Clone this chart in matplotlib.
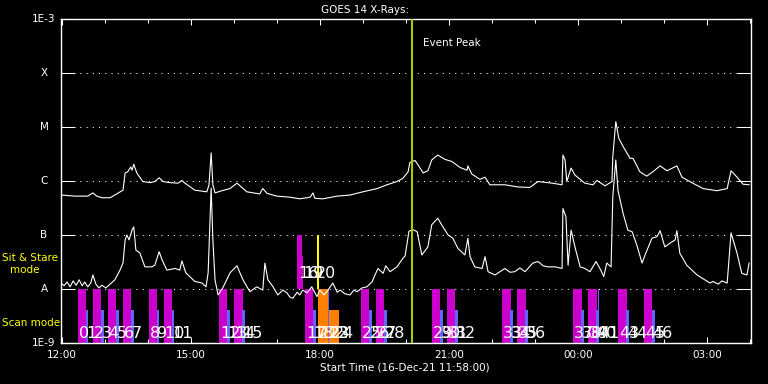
"""
GOES 14 rayos X, 16-Dec-21
"""
import numpy as np
import matplotlib
matplotlib.use('Agg')
import matplotlib.pyplot as plt

# horas desde 12:00 UT del 16-Dec-21, log10 del flujo (W/m^2)
t_long = [-0.02, 0.30, 0.60, 0.72, 0.81, 0.93, 1.12, 1.23, 1.42, 1.47,
          1.53, 1.60, 1.63, 1.67, 1.74, 1.88, 2.05, 2.16, 2.26, 2.35,
          2.51, 2.70, 2.79, 2.86, 3.09, 3.37, 3.42, 3.47, 3.51, 3.56,
          3.72, 3.91, 4.07, 4.30, 4.60, 4.67, 4.77, 5.00, 5.30, 5.53,
          5.77, 5.84, 5.88, 6.07, 6.40, 6.70, 7.00, 7.33, 7.56, 7.79,
          7.93, 8.05, 8.09, 8.21, 8.28, 8.40, 8.51, 8.60, 8.74, 8.91,
          9.07, 9.26, 9.42, 9.44, 9.53, 9.72, 9.84, 9.95, 10.30, 10.60,
          10.88, 11.07, 11.40, 11.63, 11.65, 11.70, 11.74, 11.84, 11.93, 12.16,
          12.35, 12.44, 12.63, 12.79, 12.81, 12.88, 12.95, 13.05, 13.21, 13.28,
          13.44, 13.60, 13.74, 13.91, 14.07, 14.30, 14.42, 14.67, 14.91, 15.23,
          15.47, 15.56, 15.70, 15.84, 15.98]
logf_long = [-6.26, -6.28, -6.28, -6.22, -6.28, -6.31, -6.31, -6.26, -6.17, -5.85,
             -5.83, -5.74, -5.80, -5.69, -5.85, -6.01, -6.03, -6.01, -5.94, -6.01,
             -6.03, -6.04, -5.99, -6.04, -6.17, -6.20, -6.07, -5.48, -6.07, -6.22,
             -6.18, -6.14, -6.04, -6.20, -6.24, -6.14, -6.23, -6.28, -6.30, -6.33,
             -6.30, -6.22, -6.32, -6.33, -6.28, -6.26, -6.20, -6.14, -6.07, -6.01,
             -5.95, -5.83, -5.66, -5.62, -5.70, -5.85, -5.81, -5.61, -5.52, -5.60,
             -5.64, -5.75, -5.80, -5.72, -5.87, -5.97, -5.93, -6.07, -6.07, -6.11,
             -6.12, -6.01, -6.04, -6.07, -5.52, -5.61, -6.01, -5.76, -5.89, -6.04,
             -6.07, -5.99, -6.09, -6.01, -5.55, -4.90, -5.21, -5.36, -5.58, -5.58,
             -5.83, -5.91, -5.83, -5.72, -5.81, -5.72, -5.93, -6.04, -6.14, -6.18,
             -6.14, -5.81, -5.93, -6.06, -6.07]

t_short = [-0.02, 0.05, 0.12, 0.19, 0.26, 0.33, 0.40, 0.47, 0.53, 0.60,
           0.67, 0.72, 0.79, 0.86, 0.93, 1.02, 1.12, 1.23, 1.35, 1.42,
           1.47, 1.51, 1.56, 1.63, 1.67, 1.72, 1.81, 1.93, 2.09, 2.16,
           2.26, 2.33, 2.44, 2.63, 2.74, 2.79, 2.88, 3.09, 3.26, 3.35,
           3.40, 3.47, 3.51, 3.56, 3.63, 3.74, 3.91, 4.07, 4.21, 4.37,
           4.53, 4.67, 4.72, 4.79, 4.91, 5.02, 5.14, 5.23, 5.30, 5.37,
           5.47, 5.53, 5.60, 5.70, 5.81, 5.93, 6.00, 6.09, 6.16, 6.30,
           6.40, 6.47, 6.58, 6.70, 6.79, 6.86, 6.98, 7.09, 7.21, 7.28,
           7.35, 7.47, 7.53, 7.63, 7.79, 7.93, 7.98, 8.07, 8.16, 8.26,
           8.37, 8.51, 8.60, 8.74, 8.86, 8.98, 9.09, 9.21, 9.37, 9.44,
           9.49, 9.60, 9.77, 9.84, 9.91, 10.07, 10.30, 10.42, 10.53, 10.65,
           10.77, 10.95, 11.07, 11.19, 11.30, 11.47, 11.63, 11.65, 11.72, 11.77,
           11.84, 11.93, 12.05, 12.16, 12.28, 12.42, 12.53, 12.60, 12.67, 12.77,
           12.81, 12.88, 12.93, 13.05, 13.16, 13.26, 13.37, 13.49, 13.56, 13.72,
           13.84, 13.91, 14.02, 14.14, 14.26, 14.30, 14.37, 14.53, 14.77, 14.95,
           15.07, 15.14, 15.26, 15.35, 15.47, 15.56, 15.70, 15.81, 15.93, 15.98]
logf_short = [-7.89, -7.94, -7.87, -7.96, -7.85, -7.93, -7.83, -7.94, -7.87, -7.96,
              -7.89, -7.74, -7.91, -7.98, -7.93, -7.98, -7.91, -7.83, -7.65, -7.52,
              -7.09, -7.00, -7.09, -6.91, -6.85, -7.28, -7.33, -7.59, -7.59, -7.56,
              -7.31, -7.46, -7.65, -7.62, -7.65, -7.48, -7.70, -7.86, -7.89, -7.96,
              -7.70, -6.13, -7.09, -7.83, -8.11, -7.98, -7.70, -7.57, -7.83, -8.05,
              -7.96, -8.02, -7.52, -7.83, -7.96, -8.11, -8.02, -8.07, -8.15, -8.17,
              -8.06, -8.11, -8.02, -8.07, -7.96, -8.14, -8.02, -8.11, -8.05, -7.89,
              -8.06, -8.02, -8.09, -8.11, -8.02, -8.05, -7.98, -7.96, -7.87, -7.74,
              -7.62, -7.71, -7.57, -7.68, -7.59, -7.43, -7.39, -6.93, -6.90, -6.94,
              -7.37, -7.22, -6.81, -6.69, -6.85, -7.00, -7.06, -7.25, -7.37, -7.06,
              -7.40, -7.59, -7.62, -7.40, -7.68, -7.74, -7.62, -7.69, -7.68, -7.61,
              -7.68, -7.52, -7.49, -7.57, -7.59, -7.59, -7.62, -6.51, -6.66, -7.56,
              -6.91, -7.22, -7.59, -7.62, -7.68, -7.49, -7.65, -7.77, -7.52, -7.59,
              -6.29, -5.61, -6.17, -6.60, -6.91, -6.94, -7.19, -7.52, -7.37, -7.06,
              -7.03, -6.92, -7.22, -7.15, -7.09, -6.92, -7.34, -7.56, -7.74, -7.83,
              -7.89, -7.86, -7.91, -7.85, -7.89, -6.96, -7.34, -7.71, -7.74, -7.52]

# observaciones en modo scan (magenta + azul), inicio HH:MM y etiquetas
scan_start = ['12:22', '12:43', '13:04', '13:25', '14:01', '14:22', '15:39', '16:00',
              '17:39', '18:57', '19:18', '20:36', '20:57', '22:14', '22:35', '23:53',
              '00:14', '00:56', '01:32']
scan_labels = [(0, 1), (2, 3), (4, 5), (6, 7), (8, 9), (10, 11), (12, 13), (14, 15),
               (17, 18), (25, 26), (27, 28), (29, 30), (31, 32), (33, 34), (35, 36), (37, 38),
               (39, 40), (43, 44), (45, 46)]
scan_dur = 12 / 60.    # magenta
blue_offset = 11 / 60.
blue_dur = 4 / 60.
blue_top = 4e-9

# otras observaciones
orange_start = ['17:57', '18:13']
orange_end = ['18:13', '18:26']
orange_top = [1e-8, 4e-9]
orange_labels = ['21', '23']
blue_tall_start = ['18:11', '00:28']
blue_tall_labels = ['22', '41']
extra_labels = [('24', '18:20')]

# sit & stare
ss_start = ['17:28', '17:35']
ss_end = ['17:35', '17:37']
ss_top = [1e-7, 4e-8]
ss_labels = ['16', '19']
ss_yellow = '17:56'
ss_yellow_label = '20'

event_peak = '20:09'

level_vals = [1e-9, 1e-8, 1e-7, 1e-6, 1e-5, 1e-4, 1e-3]
level_names = ['1E-9', 'A', 'B', 'C', 'M', 'X', '1E-3']
hour_ticks = [0, 3, 6, 9, 12, 15]
hour_labels = ['12:00', '15:00', '18:00', '21:00', '00:00', '03:00']


def hrs(s):
    h, m = s.split(':')
    h = int(h) + int(m) / 60.
    if h < 11:
        h = h + 24
    return h - 12


W, H = 768, 384
fig = plt.figure(figsize=(W / 100, H / 100), dpi=100, facecolor='black')
ax = fig.add_axes([60.5 / W, 41 / H, 690.2 / W, 324 / H], facecolor='black')
ax.set_yscale('log')
ax.set_xlim(-2 / 60., 16.017)
ax.set_ylim(1e-9, 1e-3)

# rejilla punteada
for v in level_vals[1:-1]:
    ax.axhline(v, color='white', lw=0.75, ls=(0, (1, 5)), zorder=1)

# barras scan
for s, (l1, l2) in zip(scan_start, scan_labels):
    t0 = hrs(s)
    ax.bar(t0, 1e-8 - 1e-9, bottom=1e-9, width=scan_dur, align='edge', color='#cc00cc', zorder=2)
    ax.bar(t0 + blue_offset, blue_top - 1e-9, bottom=1e-9, width=blue_dur, align='edge',
           color='#6464ff', zorder=3)
    ax.text(t0 + 0.02, 1.24e-9, str(l1), color='white', fontsize=11.5, va='baseline', zorder=5)
    ax.text(t0 + blue_offset + 0.02, 1.24e-9, str(l2), color='white', fontsize=11.5,
            va='baseline', zorder=5)

for s, e, top, lab in zip(orange_start, orange_end, orange_top, orange_labels):
    t0 = hrs(s)
    ax.bar(t0, top - 1e-9, bottom=1e-9, width=hrs(e) - t0, align='edge', color='#ff8000', zorder=2)
    ax.text(t0 + 0.02, 1.24e-9, lab, color='white', fontsize=11.5, va='baseline', zorder=5)
for s, lab in zip(blue_tall_start, blue_tall_labels):
    t0 = hrs(s)
    ax.bar(t0, 1e-8 - 1e-9, bottom=1e-9, width=2 / 60., align='edge', color='#6464ff', zorder=3)
    ax.text(t0 + 0.02, 1.24e-9, lab, color='white', fontsize=11.5, va='baseline', zorder=5)
for lab, s in extra_labels:
    ax.text(hrs(s), 1.24e-9, lab, color='white', fontsize=11.5, va='baseline', zorder=5)

for s, e, top, lab in zip(ss_start, ss_end, ss_top, ss_labels):
    t0 = hrs(s)
    ax.bar(t0, top - 1e-8, bottom=1e-8, width=hrs(e) - t0, align='edge', color='#cc00cc', zorder=2)
    ax.text(t0 + 0.02, 1.6e-8, lab, color='white', fontsize=11.5, va='baseline', zorder=5)
ax.bar(hrs(ss_yellow), 1e-7 - 1e-8, bottom=1e-8, width=0.035, align='edge', color='yellow', zorder=3)
ax.text(hrs(ss_yellow) - 0.02, 1.6e-8, ss_yellow_label, color='white', fontsize=11.5,
        va='baseline', zorder=5)

# curvas GOES
ax.plot(t_long, 10 ** np.array(logf_long), color='white', lw=0.8, zorder=4)
ax.plot(t_short, 10 ** np.array(logf_short), color='white', lw=0.8, zorder=4)

# pico del evento
ax.axvline(hrs(event_peak), color='#a0d000', lw=1.5, zorder=6)
ax.text(hrs(event_peak) + 0.24, 3.6e-4, 'Event Peak', color='white', fontsize=7.5,
        va='center', zorder=6)

# ejes
for sp in ax.spines.values():
    sp.set_color('white')
    sp.set_linewidth(1)
ax.set_xticks(hour_ticks)
ax.set_xticklabels(hour_labels)
ax.set_xticks(range(0, 17), minor=True)
ax.tick_params(axis='x', which='major', direction='in', top=True, bottom=True, length=4.5,
               width=0.75, colors='white', labelsize=7.5, pad=5)
ax.tick_params(axis='x', which='minor', direction='in', top=True, bottom=True, length=3,
               width=0.75, colors='white')
ax.set_yticks(level_vals)
ax.set_yticklabels([])
ax.yaxis.set_minor_locator(matplotlib.ticker.NullLocator())
ax.tick_params(axis='y', which='major', direction='in', left=True, right=True, length=10,
               width=0.75, colors='white')
for v, name in zip(level_vals, level_names):
    ax.text(-16.5 / 690.2, v, name, transform=ax.get_yaxis_transform(), color='white',
            fontsize=7.5, ha='center', va='center')

fig.text(365 / W, 1 - 10 / H, 'GOES 14 X-Rays:', color='white', fontsize=7.5,
         ha='center', va='center')
fig.text(405 / W, 1 - 368 / H, 'Start Time (16-Dec-21 11:58:00)', color='white',
         fontsize=7.5, ha='center', va='center')
fig.text(2 / W, 1 - 258 / H, 'Sit & Stare', color='yellow', fontsize=7.5, va='center')
fig.text(24.5 / W, 1 - 270 / H, 'mode', color='yellow', fontsize=7.5, va='center', ha='center')
fig.text(2 / W, 1 - 323 / H, 'Scan mode', color='yellow', fontsize=7.5, va='center')

fig.savefig('out.png', dpi=100, facecolor='black')
